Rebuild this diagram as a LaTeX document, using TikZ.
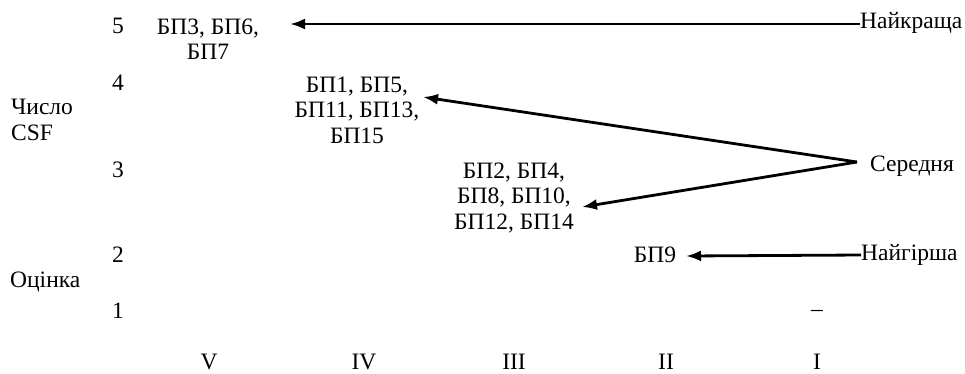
\documentclass[tikz,border=0pt]{standalone}
\usepackage{fontspec}
\setmainfont{Liberation Serif}
\usetikzlibrary{arrows.meta}
\begin{document}
\begin{tikzpicture}[x=1pt,y=-1pt,
  every node/.style={font=\fontsize{23.5}{25.5}\selectfont, inner sep=0pt},
  lbl/.style={align=center},
  conn/.style={line width=2.8pt},
  arr/.style={conn,-{Latex[length=15pt,width=11pt]}}]
\useasboundingbox (0,0) rectangle (965,373);
% y-axis numbers
\node (n5) at (118,26) {5};
\node (n4) at (118,83) {4};
\node (n3) at (118,170) {3};
\node (n2) at (118,255) {2};
\node (n1) at (118,311) {1};
\node[anchor=west,align=left] (csf) at (11,120) {Число\\CSF};
\node[anchor=west] (oc) at (10,282) {Оцінка};
% x-axis
\node (r5) at (209,362) {V};
\node (r4) at (364,362) {IV};
\node (r3) at (514,362) {III};
\node (r2) at (666,362) {II};
\node (r1) at (817,362) {I};
% groups
\node[lbl] (g5) at (208,39) {БП3, БП6,\\БП7};
\node[lbl] (g4) at (357,110) {БП1, БП5,\\БП11, БП13,\\БП15};
\node[lbl] (g3) at (514,198) {БП2, БП4,\\БП8, БП10,\\БП12, БП14};
\node (bp9) at (655,255) {БП9};
\node (dash) at (817,313) {–};
% labels
\node[anchor=west] (best) at (860,23) {Найкраща};
\node[anchor=west] (mid) at (870,166) {Середня};
\node[anchor=west] (worst) at (861,255) {Найгірша};
\coordinate (t5) at (290,24);
\coordinate (t4) at (423,97);
\coordinate (t3) at (582,207);
\coordinate (t2) at (686,256);
\coordinate (v) at (857,162);
\draw[arr] (best.west) ++(0,1) -- (t5);
\draw[arr] (v) -- (t4);
\draw[arr] (v) -- (t3);
\draw[arr] (worst.west) -- (t2);
\end{tikzpicture}
\end{document}
